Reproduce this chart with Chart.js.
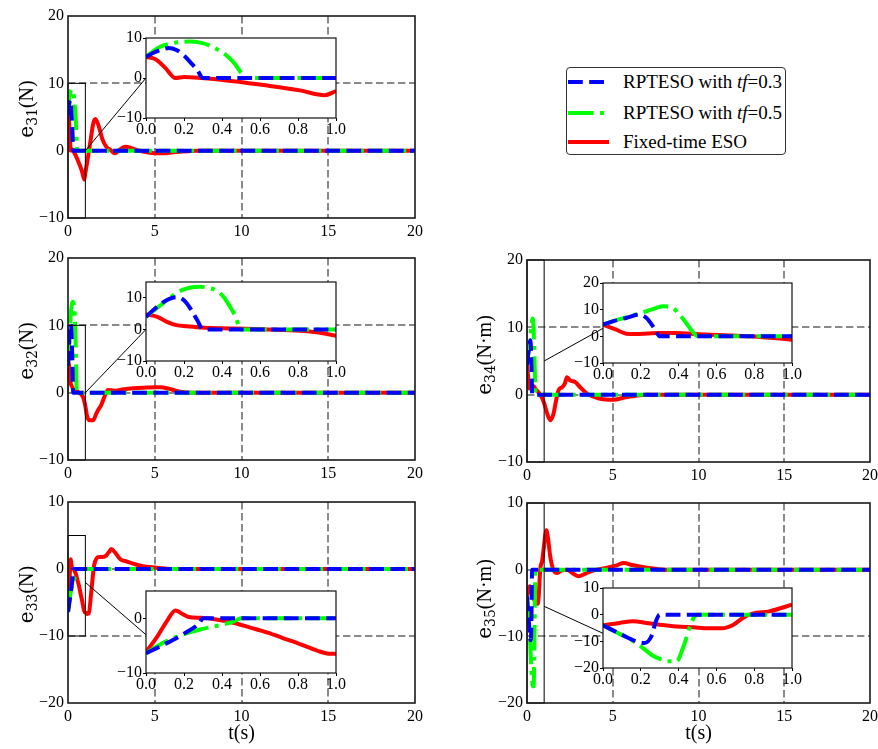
<!DOCTYPE html>
<html>
<head>
<meta charset="utf-8">
<script src="https://cdn.jsdelivr.net/npm/chart.js@4.4.1/dist/chart.umd.min.js"></script>
<style>
  html, body { margin: 0; padding: 0; background: #fff; overflow: hidden; }
  #fig { position: relative; width: 878px; height: 749px; background: #fff; overflow: hidden; }
  #fig canvas { position: absolute; }
  #legend {
    position: absolute; left: 566px; top: 67px; width: 218px; height: 86px;
    border: 1.5px solid #333; border-radius: 4px; background: #fff;
    font-family: "Liberation Serif", "Times New Roman", serif; font-size: 19px; color: #000;
  }
  #legend .row { position: absolute; left: 0; height: 20px; width: 218px; }
  #legend svg { position: absolute; left: 0; top: 5px; }
  #legend span { position: absolute; left: 56px; top: 0; line-height: 20px; white-space: nowrap; }
</style>
</head>
<body>
<div id="fig"></div>
<script>
// ---- series names and tick labels ----
const seriesNames = ['RPTESO with tf=0.3', 'RPTESO with tf=0.5', 'Fixed-time ESO'];
const xTicksMain = [0, 5, 10, 15, 20];
const xTicksInset = [0, 0.2, 0.4, 0.6, 0.8, 1.0];
const yTicksUpper = [-10, 0, 10, 20];
const yTicksLower = [-20, -10, 0, 10];
const yTicksInset31 = [-10, 0, 10];
const yTicksInset32 = [-10, 0, 10];
const yTicksInset33 = [-10, 0];
const yTicksInset34 = [-10, 0, 10, 20];
const yTicksInset35 = [-20, -10, 0, 10];

// ---- e31 (N) ----
const tBlue31  = [0, 0.04, 0.08, 0.12, 0.16, 0.2, 0.24, 0.27, 0.3, 20];
const eBlue31  = [5.25, 6.3, 7.1, 7.5, 7.0, 5.6, 3.6, 2.0, 0, 0];
const tGreen31 = [0, 0.04, 0.08, 0.13, 0.18, 0.23, 0.28, 0.33, 0.38, 0.43, 0.47, 0.5, 0.52, 20];
const eGreen31 = [5.25, 6.8, 7.9, 8.6, 9.0, 9.1, 8.9, 8.2, 7.0, 5.4, 3.4, 1.3, 0, 0];
const tRed31   = [0, 0.05, 0.1, 0.155, 0.2, 0.29, 0.46, 0.64, 0.81, 0.94, 1.0, 1.1, 1.3, 1.45, 1.58, 1.75, 2.0, 2.2, 2.45, 2.7, 3.0, 3.3, 3.75, 4.1, 4.7, 5.3, 6.4, 7.5, 20];
const eRed31   = [5.25, 4.7, 2.6, 0, 0.25, 0, -0.8, -1.9, -3.1, -4.3, -3.3, -1.8, 1.5, 4.0, 4.7, 3.8, 1.6, 0.6, 0.1, -0.4, 0.2, 0.6, 0.3, 0, -0.3, -0.4, -0.15, 0, 0];

// ---- e32 (N) ----
const tBlue32  = [0, 0.04, 0.08, 0.12, 0.16, 0.2, 0.24, 0.27, 0.3, 20];
const eBlue32  = [4.0, 6.2, 8.2, 9.6, 10.2, 9.2, 6.0, 2.9, 0, 0];
const tGreen32 = [0, 0.04, 0.08, 0.13, 0.18, 0.23, 0.285, 0.33, 0.37, 0.41, 0.44, 0.47, 0.5, 20];
const eGreen32 = [4.0, 5.9, 7.8, 10.2, 12.2, 13.2, 13.5, 13.1, 12.3, 10.2, 7.4, 4.2, 0, 0];
const tRed32   = [0, 0.06, 0.11, 0.16, 0.215, 0.29, 0.46, 0.64, 0.81, 0.9, 1.0, 1.1, 1.25, 1.45, 1.6, 1.73, 1.92, 2.1, 2.3, 2.7, 3.2, 3.75, 4.5, 5.1, 5.4, 5.7, 6.45, 7.2, 20];
const eRed32   = [4.7, 4.0, 2.4, 1.35, 1.0, 0.6, 0.3, 0, -0.4, -0.9, -2.0, -3.5, -4.1, -4.1, -3.3, -2.6, -1.8, -0.6, 0.4, 0.3, 0.5, 0.65, 0.75, 0.8, 0.8, 0.65, 0.15, 0, 0];

// ---- e33 (N) ----
const tBlue33  = [0, 0.1, 0.2, 0.28, 0.3, 20];
const eBlue33  = [-6.4, -4.7, -2.8, -0.9, 0, 0];
const tGreen33 = [0, 0.05, 0.11, 0.2, 0.29, 0.37, 0.46, 0.5, 20];
const eGreen33 = [-6.4, -5.3, -4.1, -2.9, -2.0, -1.4, -0.6, 0, 0];
const tRed33   = [0, 0.06, 0.11, 0.155, 0.19, 0.225, 0.29, 0.37, 0.46, 0.55, 0.64, 0.72, 0.81, 0.9, 0.97, 1.0, 1.1, 1.2, 1.35, 1.5, 1.65, 1.8, 2.0, 2.2, 2.35, 2.5, 2.7, 3.0, 3.4, 3.75, 4.3, 5.1, 6.0, 20];
const eRed33   = [-6.2, -3.3, -0.5, 1.45, 0.85, 0.25, 0.1, -0.2, -0.8, -1.7, -2.6, -3.6, -4.7, -5.9, -6.5, -6.5, -6.7, -6.6, -3.2, 0.5, 1.6, 1.8, 1.8, 2.0, 2.5, 3.0, 2.5, 1.5, 1.1, 0.8, 0.4, 0.2, 0, 0];

// ---- e34 (N·m) ----
const tBlue34  = [0, 0.06, 0.123, 0.19, 0.23, 0.26, 0.28, 0.3, 20];
const eBlue34  = [4.4, 5.8, 6.9, 8.1, 6.9, 4.2, 1.9, 0, 0];
const tGreen34 = [0, 0.06, 0.123, 0.18, 0.23, 0.28, 0.32, 0.37, 0.42, 0.45, 0.48, 0.5, 20];
const eGreen34 = [4.4, 5.8, 7.1, 8.3, 9.4, 10.6, 11.3, 10.6, 6.9, 4.0, 1.25, 0, 0];
const tRed34   = [0, 0.07, 0.123, 0.176, 0.3, 0.39, 0.48, 0.65, 0.83, 1.0, 1.15, 1.36, 1.55, 1.7, 1.84, 2.04, 2.2, 2.33, 2.52, 2.8, 3.1, 3.5, 4.27, 5.05, 5.8, 7.0, 20];
const eRed34   = [4.4, 2.5, 1.0, 0.9, 1.25, 1.25, 0.9, 0.4, -0.25, -1.25, -2.6, -3.8, -2.8, -0.8, 0.65, 1.1, 1.6, 2.6, 2.1, 1.9, 1.1, 0.15, -0.6, -0.75, -0.35, 0, 0];

// ---- e35 (N·m) ----
const tBlue35  = [0, 0.088, 0.176, 0.22, 0.256, 0.28, 0.3, 20];
const eBlue35  = [-4, -7.1, -10, -10.6, -8.1, -2.5, 0, 0];
const tGreen35 = [0, 0.088, 0.176, 0.265, 0.3, 0.335, 0.39, 0.42, 0.44, 0.46, 0.485, 0.5, 20];
const eGreen35 = [-4, -7.2, -10.6, -15.4, -16.6, -17.5, -17.5, -13.1, -9.0, -4.4, -0.6, 0, 0];
const tRed35   = [0, 0.088, 0.16, 0.23, 0.3, 0.39, 0.48, 0.56, 0.63, 0.69, 0.74, 0.79, 0.88, 1.0, 1.07, 1.13, 1.22, 1.36, 1.55, 1.75, 2.04, 2.33, 2.7, 3.0, 3.4, 3.9, 4.66, 5.24, 5.63, 6.2, 7.0, 8.0, 20];
const eRed35   = [-4, -3.1, -2.5, -3.1, -3.75, -4.4, -4.75, -5.1, -5.1, -3.75, -1.25, 0.4, 1.25, 3.75, 5.3, 5.9, 4.8, 1.9, -0.1, -0.5, -0.1, 0, -0.6, -1.0, -0.6, -0.1, 0.3, 0.65, 1.0, 0.65, 0.3, 0, 0];

// ---- styling ----
const SERIF = '"Liberation Serif", "Times New Roman", serif';
const MATH = '"DejaVu Serif", serif';
Chart.defaults.font.family = SERIF;
Chart.defaults.font.size = 16;
Chart.defaults.color = '#000';
const tickFont = { family: SERIF, size: 16 };

const styles = [
  { color: '#0000ff', dash: [14.8, 6.4] },
  { color: '#00ff00', dash: [25.6, 6.4, 4, 6.4] },
  { color: '#ff0000', dash: [] }
];

const pts = (t, v) => t.map((x, i) => ({ x, y: v[i] }));

function buildDatasets(blueT, blueV, greenT, greenV, redT, redV) {
  // first dataset is painted last, so blue ends up on top
  const series = [[blueT, blueV], [greenT, greenV], [redT, redV]];
  return series.map(([t, v], i) => ({
    label: seriesNames[i],
    data: pts(t, v),
    borderColor: styles[i].color,
    borderWidth: 4,
    borderDash: styles[i].dash,
    borderCapStyle: 'butt',
    pointRadius: 0,
    fill: false,
    cubicInterpolationMode: 'monotone',
    clip: 0
  }));
}

const minusFmt = v => String(v).replace('-', '\u2212');

// layout of each panel (plot-area boxes in page pixels)
const panels = [
  { sub: '31', unit: '(N)', main: { L: 68, R: 415, T: 16, B: 218 }, yRange: [-10, 20], yTicks: yTicksUpper,
    inset: { L: 146, R: 336, T: 38, B: 118 }, iyRange: [-10, 10], iyTicks: yTicksInset31,
    box: [0, 1, -10, 10], link: [1, 0, 0], titleX: 26, titleDy: -8, xTitle: false,
    data: [tBlue31, eBlue31, tGreen31, eGreen31, tRed31, eRed31] },
  { sub: '32', unit: '(N)', main: { L: 68, R: 415, T: 258, B: 460 }, yRange: [-10, 20], yTicks: yTicksUpper,
    inset: { L: 146, R: 336, T: 282, B: 361 }, iyRange: [-10, 15], iyTicks: yTicksInset32,
    box: [0, 1, -10, 10], link: [1, 0, 0], titleX: 26, titleDy: -8, xTitle: false,
    data: [tBlue32, eBlue32, tGreen32, eGreen32, tRed32, eRed32] },
  { sub: '33', unit: '(N)', main: { L: 68, R: 415, T: 502, B: 703 }, yRange: [-20, 10], yTicks: yTicksLower,
    inset: { L: 146, R: 336, T: 591, B: 673 }, iyRange: [-10, 5], iyTicks: yTicksInset33,
    box: [0, 1, -10, 5], link: [1, -2, -3], titleX: 26, titleDy: -8, xTitle: true,
    data: [tBlue33, eBlue33, tGreen33, eGreen33, tRed33, eRed33] },
  { sub: '34', unit: '(N\u00b7m)', main: { L: 527, R: 870, T: 260, B: 462 }, yRange: [-10, 20], yTicks: yTicksUpper,
    inset: { L: 603, R: 792, T: 283, B: 363 }, iyRange: [-10, 20], iyTicks: yTicksInset34,
    box: [0, 1, -10, 20], link: [1, 5, 3], titleX: 484, titleDy: -6, xTitle: false,
    data: [tBlue34, eBlue34, tGreen34, eGreen34, tRed34, eRed34] },
  { sub: '35', unit: '(N\u00b7m)', main: { L: 527, R: 870, T: 503, B: 703 }, yRange: [-20, 10], yTicks: yTicksLower,
    inset: { L: 603, R: 792, T: 588, B: 668 }, iyRange: [-20, 10], iyTicks: yTicksInset35,
    box: [0, 1, -20, 10], link: [1, -5.5, -7], titleX: 484, titleDy: -4, xTitle: true,
    data: [tBlue35, eBlue35, tGreen35, eGreen35, tRed35, eRed35] }
];

const fig = document.getElementById('fig');

function addCanvas(left, top, w, h) {
  const c = document.createElement('canvas');
  c.width = w; c.height = h;
  c.style.left = left + 'px'; c.style.top = top + 'px';
  c.style.width = w + 'px'; c.style.height = h + 'px';
  fig.appendChild(c);
  return c;
}

// main axes padding around the plot area
const M = { left: 60, top: 14, right: 12, bottom: 45 };
// inset axes padding
const I = { left: 34, top: 10, right: 12, bottom: 26 };

const hideEdge = ctx => {
  const s = ctx.scale, v = ctx.tick && ctx.tick.value;
  return (v === s.min || v === s.max) ? 'rgba(0,0,0,0)' : '#8a8a8a';
};

function drawYTitle(ctx, cx, cy, sub, unit) {
  ctx.save();
  ctx.translate(cx, cy);
  ctx.rotate(-Math.PI / 2);
  ctx.fillStyle = '#000';
  ctx.textBaseline = 'alphabetic';
  ctx.font = '20px ' + MATH;
  const w1 = ctx.measureText('e').width;
  ctx.font = '14px ' + MATH;
  const w2 = ctx.measureText(sub).width;
  ctx.font = '20px ' + SERIF;
  const w3 = ctx.measureText(unit).width;
  let x = -(w1 + w2 + w3) / 2;
  const base = 7;
  ctx.font = '20px ' + MATH;
  ctx.fillText('e', x, base); x += w1;
  ctx.font = '14px ' + MATH;
  ctx.fillText(sub, x, base + 4); x += w2;
  ctx.font = '20px ' + SERIF;
  ctx.fillText(unit, x, base);
  ctx.restore();
}

// inset axes first so the connector lines can use their scales
panels.forEach(p => {
  const b = p.inset;
  const left = b.L - I.left, top = b.T - I.top;
  const w = (b.R - b.L) + I.left + I.right, h = (b.B - b.T) + I.top + I.bottom;
  p.insetPos = { left, top };
  const canvas = addCanvas(left, top, w, h);
  p.insetChart = new Chart(canvas, {
    type: 'line',
    data: { datasets: buildDatasets(...p.data) },
    options: {
      responsive: false, animation: false, events: [],
      layout: { padding: { left: 0, top: I.top, right: I.right, bottom: 0 } },
      plugins: { legend: { display: false }, tooltip: { enabled: false } },
      scales: {
        x: {
          type: 'linear', min: 0, max: 1,
          afterBuildTicks: s => { s.ticks = xTicksInset.map(v => ({ value: v })); },
          afterFit: s => { s.height = I.bottom; s.paddingLeft = 0; s.paddingRight = 0; },
          grid: { drawOnChartArea: false, drawTicks: true, tickLength: 3, tickColor: '#000', tickWidth: 1 },
          border: { display: false },
          ticks: { padding: -1, autoSkip: false, maxRotation: 0, font: tickFont, color: '#000', callback: v => v.toFixed(1) }
        },
        y: {
          type: 'linear', min: p.iyRange[0], max: p.iyRange[1],
          afterBuildTicks: s => { s.ticks = p.iyTicks.map(v => ({ value: v })); },
          afterFit: s => { s.width = I.left; s.paddingTop = 0; s.paddingBottom = 0; },
          grid: { drawOnChartArea: false, drawTicks: true, tickLength: 3, tickColor: '#000', tickWidth: 1 },
          border: { display: false },
          ticks: { padding: 1, autoSkip: false, font: tickFont, color: '#000', callback: minusFmt }
        }
      }
    },
    plugins: [{
      id: 'insetFrame',
      beforeDraw(chart) {
        const a = chart.chartArea, ctx = chart.ctx;
        ctx.save(); ctx.fillStyle = '#fff';
        ctx.fillRect(a.left, a.top, a.width, a.height);
        ctx.restore();
      },
      afterDatasetsDraw(chart) {
        const a = chart.chartArea, ctx = chart.ctx;
        ctx.save(); ctx.strokeStyle = '#111'; ctx.lineWidth = 1.2;
        ctx.strokeRect(a.left, a.top, a.width, a.height);
        ctx.restore();
      }
    }]
  });
});

// main axes, inserted beneath the insets
panels.forEach(p => {
  const b = p.main;
  const left = b.L - M.left, top = b.T - M.top;
  const w = (b.R - b.L) + M.left + M.right, h = (b.B - b.T) + M.top + M.bottom;
  p.mainPos = { left, top };
  const canvas = addCanvas(left, top, w, h);
  fig.insertBefore(canvas, fig.firstChild);
  new Chart(canvas, {
    type: 'line',
    data: { datasets: buildDatasets(...p.data) },
    options: {
      responsive: false, animation: false, events: [],
      layout: { padding: { left: 0, top: M.top, right: M.right, bottom: 0 } },
      plugins: { legend: { display: false }, tooltip: { enabled: false } },
      scales: {
        x: {
          type: 'linear', min: 0, max: 20,
          afterBuildTicks: s => { s.ticks = xTicksMain.map(v => ({ value: v })); },
          afterFit: s => { s.height = M.bottom; s.paddingLeft = 0; s.paddingRight = 0; },
          grid: { color: hideEdge, lineWidth: 2, drawTicks: false },
          border: { display: false, dash: [7.4, 3.6] },
          ticks: { padding: 4, autoSkip: false, maxRotation: 0, font: tickFont, color: '#000' }
        },
        y: {
          type: 'linear', min: p.yRange[0], max: p.yRange[1],
          afterBuildTicks: s => { s.ticks = p.yTicks.map(v => ({ value: v })); },
          afterFit: s => { s.width = M.left; s.paddingTop = 0; s.paddingBottom = 0; },
          grid: { color: hideEdge, lineWidth: 2, drawTicks: false },
          border: { display: false, dash: [7.4, 3.6] },
          ticks: { padding: 4, autoSkip: false, font: tickFont, color: '#000', callback: minusFmt }
        }
      }
    },
    plugins: [{
      id: 'mainDecor',
      afterDatasetsDraw(chart) {
        const { ctx, chartArea: a, scales: { x, y } } = chart;
        ctx.save();
        // zoomed region outline
        ctx.strokeStyle = '#000'; ctx.lineWidth = 1;
        const x0 = x.getPixelForValue(p.box[0]), x1 = x.getPixelForValue(p.box[1]);
        const y0 = y.getPixelForValue(p.box[2]), y1 = y.getPixelForValue(p.box[3]);
        ctx.strokeRect(x0, y1, x1 - x0, y0 - y1);
        // connector to the inset
        const ins = p.insetChart;
        const sx = x.getPixelForValue(p.link[0]), sy = y.getPixelForValue(p.link[1]);
        const ex = p.insetPos.left + ins.scales.x.getPixelForValue(0) - p.mainPos.left;
        const ey = p.insetPos.top + ins.scales.y.getPixelForValue(p.link[2]) - p.mainPos.top;
        ctx.beginPath(); ctx.moveTo(sx, sy); ctx.lineTo(ex, ey); ctx.stroke();
        // axes frame
        ctx.strokeStyle = '#1a1a1a'; ctx.lineWidth = 1.6;
        ctx.strokeRect(a.left, a.top, a.width, a.height);
        ctx.restore();
        // axis titles
        drawYTitle(ctx, p.titleX - p.mainPos.left, (a.top + a.bottom) / 2 + p.titleDy, p.sub, p.unit);
        if (p.xTitle) {
          ctx.save();
          ctx.fillStyle = '#000'; ctx.font = '20px ' + SERIF;
          ctx.textAlign = 'center'; ctx.textBaseline = 'middle';
          ctx.fillText('t(s)', (a.left + a.right) / 2, a.bottom + 31);
          ctx.restore();
        }
      }
    }]
  });
});

// legend
const legend = document.createElement('div');
legend.id = 'legend';
const rowTops = [4, 35, 64];
const rowsHtml = seriesNames.map((name, i) => {
  const st = styles[i];
  const dash = st.dash.length ? ` stroke-dasharray="${st.dash.join(' ')}"` : '';
  const label = name.replace('tf', '<i>tf</i>');
  return `<div class="row" style="top:${rowTops[i]}px">` +
    `<svg width="44" height="10"><line x1="1" y1="5" x2="42" y2="5" stroke="${st.color}" stroke-width="4"${dash}/></svg>` +
    `<span>${label}</span></div>`;
}).join('');
legend.innerHTML = rowsHtml;
fig.appendChild(legend);
</script>
</body>
</html>
